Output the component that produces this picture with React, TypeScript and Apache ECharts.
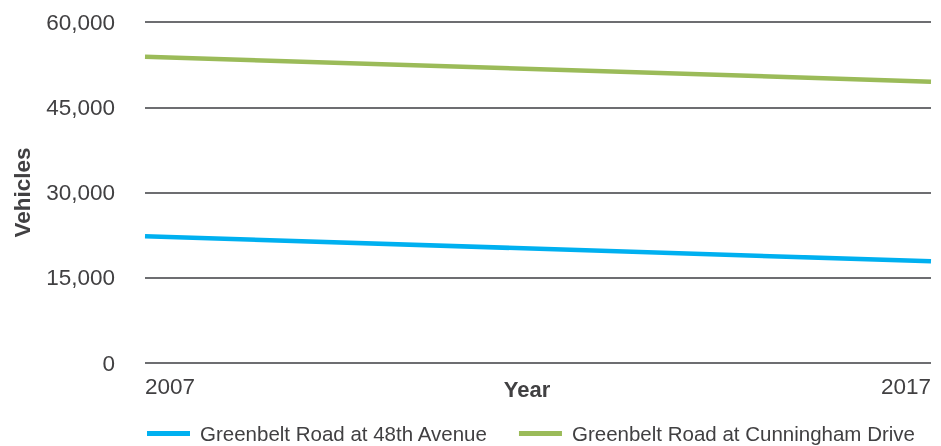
import React, { useEffect, useRef } from "react";
import * as echarts from "echarts";

const years = ["2007", "2017"];
const seriesNames = ["Greenbelt Road at 48th Avenue", "Greenbelt Road at Cunningham Drive"];
const avenue48 = [22300, 17900];
const cunningham = [53900, 49500];
const colors = ["#00b0f0", "#9bbb59"];
const xAxisTitle = "Year";
const yAxisTitle = "Vehicles";

export default function App() {
  const ref = useRef<HTMLDivElement>(null);
  useEffect(() => {
    if (!ref.current) return;
    const chart = echarts.init(ref.current, null, { renderer: "svg" });
    const font = "'Liberation Sans', Arial, Helvetica, sans-serif";
    chart.setOption({
      animation: false,
      color: colors,
      textStyle: { fontFamily: font },
      grid: { left: 145, right: 10, top: 22, bottom: 83, containLabel: false },
      legend: {
        left: 142,
        top: 418,
        icon: "rect",
        itemWidth: 43,
        itemHeight: 5,
        itemGap: 31,
        textStyle: { fontFamily: font, fontSize: 20.5, color: "#414042", padding: [0, 0, 0, 5] },
        data: seriesNames,
      },
      graphic: [
        {
          type: "text",
          x: 527,
          y: 389,
          style: {
            text: xAxisTitle,
            fontFamily: font,
            fontSize: 22,
            fontWeight: "bold",
            fill: "#414042",
            align: "center",
            verticalAlign: "middle",
          },
        },
      ],
      xAxis: {
        type: "category",
        data: years,
        boundaryGap: false,
        axisLine: { show: false },
        axisTick: { show: false },
        axisLabel: {
          fontFamily: font,
          fontSize: 22.5,
          color: "#414042",
          margin: 12,
          alignMinLabel: "left",
          alignMaxLabel: "right",
        },
        splitLine: { show: false },
      },
      yAxis: {
        type: "value",
        min: 0,
        max: 60000,
        interval: 15000,
        name: yAxisTitle,
        nameLocation: "middle",
        nameRotate: 90,
        nameGap: 111,
        nameTextStyle: { fontFamily: font, fontSize: 22.5, fontWeight: "bold", color: "#414042" },
        axisLine: { show: false },
        axisTick: { show: false },
        axisLabel: {
          fontFamily: font,
          fontSize: 22.5,
          color: "#414042",
          margin: 30,
          formatter: (v: number) => v.toLocaleString("en-US"),
        },
        splitLine: { lineStyle: { color: "#6d6e71", width: 2 } },
      },
      series: [
        {
          name: seriesNames[0],
          type: "line",
          data: avenue48,
          showSymbol: false,
          lineStyle: { width: 4.5, color: colors[0] },
          itemStyle: { color: colors[0] },
        },
        {
          name: seriesNames[1],
          type: "line",
          data: cunningham,
          showSymbol: false,
          lineStyle: { width: 4.5, color: colors[1] },
          itemStyle: { color: colors[1] },
        },
      ],
    });
    return () => chart.dispose();
  }, []);
  return <div ref={ref} style={{ position: "fixed", left: 0, top: 0, width: 941, height: 446 }} />;
}
